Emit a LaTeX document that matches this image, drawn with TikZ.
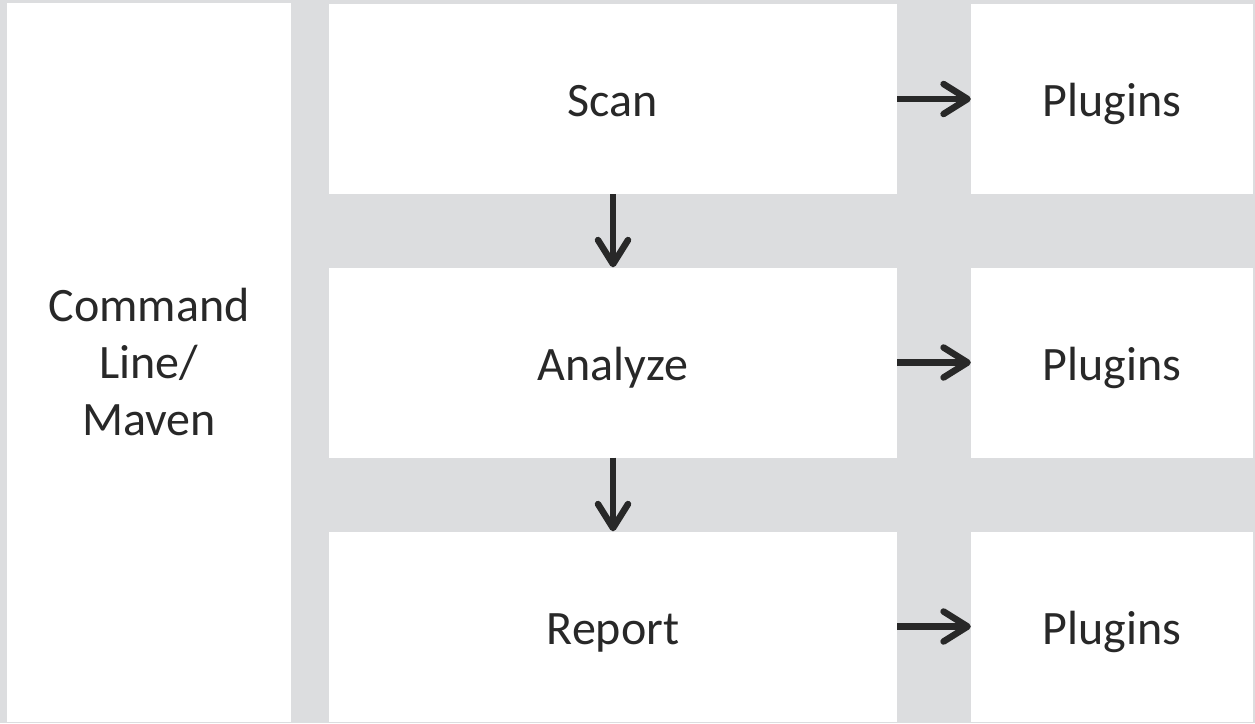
\documentclass[tikz,border=0pt]{standalone}
\usepackage{fontspec}
\setmainfont{Carlito}
\usetikzlibrary{arrows.meta}
\definecolor{bggray}{RGB}{220,221,223}
\definecolor{ink}{RGB}{40,40,40}
\begin{document}
\begin{tikzpicture}[x=1pt,y=-1pt,
  box/.style={fill=white, draw=none, inner sep=0pt, text=ink,
    font=\fontsize{48}{57}\selectfont, align=center},
  midbox/.style={box, minimum width=568pt, minimum height=190pt, text height=44pt, text depth=9pt},
  plugbox/.style={box, minimum width=282pt, minimum height=190pt, text height=44pt, text depth=9pt},
  flow/.style={draw=ink, line width=6.5pt,
    -{Straight Barb[length=24pt,width=30pt,line cap=round,line join=round]}}]
\fill[bggray] (0,0) rectangle (1255,723);
\useasboundingbox (0,0) rectangle (1255,723);
\node[box, minimum width=284pt, minimum height=719pt] (cli) at (149,362.5) {Command\\Line/\\Maven};
\node[midbox] (scan) at (613,99) {Scan};
\node[midbox] (analyze) at (613,362.5) {Analyze};
\node[midbox] (report) at (613,626.5) {Report};
\node[plugbox] (p1) at (1112,99) {Plugins};
\node[plugbox] (p2) at (1112,362.5) {Plugins};
\node[plugbox] (p3) at (1112,626.5) {Plugins};
\draw[flow] (scan.east) -- (p1.west);
\draw[flow] (analyze.east) -- (p2.west);
\draw[flow] (report.east) -- (p3.west);
\draw[flow] (scan.south) -- (analyze.north);
\draw[flow] (analyze.south) -- (report.north);
\end{tikzpicture}
\end{document}
